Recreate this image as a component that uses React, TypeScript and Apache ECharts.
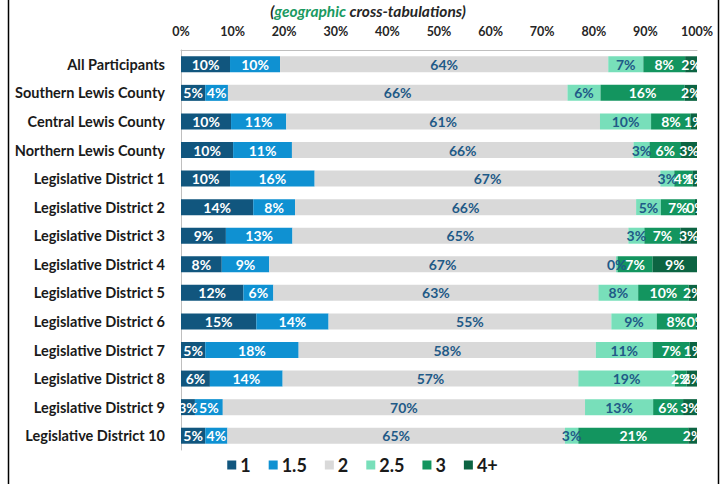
import React, { useEffect, useRef } from "react";
import * as echarts from "echarts";

const categories = [
  "All Participants",
  "Southern Lewis County",
  "Central Lewis County",
  "Northern Lewis County",
  "Legislative District 1",
  "Legislative District 2",
  "Legislative District 3",
  "Legislative District 4",
  "Legislative District 5",
  "Legislative District 6",
  "Legislative District 7",
  "Legislative District 8",
  "Legislative District 9",
  "Legislative District 10",
];

const seriesNames = ["1", "1.5", "2", "2.5", "3", "4+"];

const v1 = [9.5, 4.7, 9.7, 10.1, 9.5, 14.0, 8.7, 7.9, 12.1, 14.6, 4.7, 5.6, 2.7, 4.7];
const v15 = [9.7, 4.4, 10.7, 11.4, 16.4, 8.1, 12.9, 9.2, 5.8, 14.0, 18.1, 14.1, 5.4, 4.3];
const v2 = [63.6, 65.8, 60.8, 66.2, 67.0, 66.1, 65.1, 67.2, 63.0, 54.8, 57.6, 57.3, 70.2, 65.4];
const v25 = [6.8, 6.4, 9.9, 3.1, 2.7, 4.8, 3.1, 0.3, 7.7, 8.8, 11.0, 18.7, 13.2, 2.6];
const v3 = [8.1, 16.3, 7.7, 6.1, 3.6, 6.6, 7.0, 6.8, 9.8, 7.6, 7.2, 2.3, 5.8, 21.3];
const v4 = [2.3, 2.4, 1.2, 3.1, 0.8, 0.4, 3.2, 8.6, 1.6, 0.2, 1.4, 2.0, 2.7, 1.7];

const xTicks = [0, 10, 20, 30, 40, 50, 60, 70, 80, 90, 100];

const colors = ["#11567e", "#0f91d2", "#d9d9d9", "#78dfba", "#13955f", "#0c6442"];
const labelColors = ["#ffffff", "#ffffff", "#1f5a87", "#1f5a87", "#ffffff", "#ffffff"];

export default function App() {
  const ref = useRef<HTMLDivElement>(null);
  useEffect(() => {
    if (!ref.current) return;
    const chart = echarts.init(ref.current, undefined, { renderer: "svg" });
    const all = [v1, v15, v2, v25, v3, v4];
    const font = "Lato, 'Open Sans', sans-serif";
    chart.setOption({
      animation: false,
      textStyle: { fontFamily: font },
      title: {
        text: "{i|(}{g|geographic}{i| cross-tabulations)}",
        left: 363,
        textAlign: "center",
        top: -2,
        textStyle: {
          rich: {
            i: { fontSize: 15.5, fontWeight: "bold", fontStyle: "italic", color: "#262626", fontFamily: font },
            g: { fontSize: 15.5, fontWeight: "bold", fontStyle: "italic", color: "#1a9a62", fontFamily: font },
          },
        },
      },
      legend: {
        bottom: 5,
        left: "center",
        itemWidth: 9,
        itemHeight: 9,
        itemGap: 18,
        icon: "rect",
        data: seriesNames,
        textStyle: { fontSize: 18, fontWeight: "bold", color: "#1a1a1a", fontFamily: font, padding: [0, 0, 0, -1] },
      },
      grid: { left: 181, right: 28, top: 50, height: 400, containLabel: false },
      xAxis: {
        type: "value",
        position: "top",
        min: 0,
        max: 100,
        interval: 10,
        axisLine: { show: true, lineStyle: { color: "#bfbfbf" } },
        axisTick: { show: false },
        splitLine: { show: false },
        axisLabel: {
          formatter: (v: number) => (xTicks.includes(v) ? v + "%" : ""),
          fontSize: 12.5,
          fontWeight: "bold",
          color: "#262626",
          margin: 12,
          fontFamily: font,
        },
      },
      yAxis: {
        type: "category",
        inverse: true,
        data: categories,
        axisLine: { show: true, lineStyle: { color: "#bfbfbf" } },
        axisTick: { show: false },
        axisLabel: {
          fontSize: 14.5,
          fontWeight: "bold",
          color: "#1a1a1a",
          margin: 16,
          fontFamily: font,
        },
      },
      series: seriesNames.map((name, i) => ({
        name,
        type: "bar",
        stack: "total",
        barWidth: 16,
        data: all[i],
        itemStyle: { color: colors[i] },
        label: {
          show: true,
          position: "inside",
          formatter: (p: any) => Math.round(p.value) + "%",
          color: labelColors[i],
          fontSize: 14,
          fontWeight: "bold",
          fontFamily: font,
        },
      })),
      graphic: [
        { type: "line", shape: { x1: 8.5, y1: 0, x2: 8.5, y2: 484 }, style: { stroke: "#000", lineWidth: 1.5 } },
        { type: "line", shape: { x1: 718.5, y1: 0, x2: 718.5, y2: 484 }, style: { stroke: "#000", lineWidth: 1.5 } },
      ],
    });
    return () => chart.dispose();
  }, []);
  return <div ref={ref} style={{ width: 725, height: 484, position: "absolute", left: 0, top: 0 }} />;
}
